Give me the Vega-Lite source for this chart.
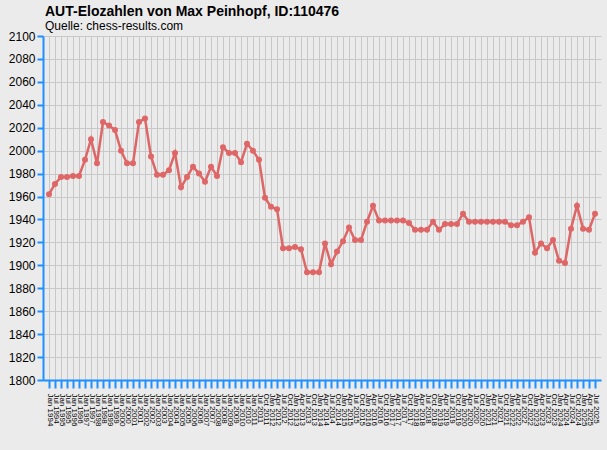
{
  "$schema": "https://vega.github.io/schema/vega-lite/v6.json",
  "autosize": {"type": "none"},
  "padding": {"left": 43, "top": 36, "right": 6, "bottom": 70},
  "width": 558,
  "height": 344,
  "background": "#ebebeb",
  "config": {
    "font": "Liberation Sans",
    "view": {"fill": "#ebebeb", "stroke": null}
  },
  "title": {
    "text": "AUT-Elozahlen von Max Peinhopf, ID:110476",
    "subtitle": "Quelle: chess-results.com",
    "anchor": "start",
    "frame": "group",
    "font": "Liberation Sans",
    "fontSize": 14,
    "fontWeight": "bold",
    "color": "#000000",
    "subtitleFont": "Liberation Sans",
    "subtitleFontSize": 12,
    "subtitleColor": "#000000",
    "subtitlePadding": 2,
    "offset": -2,
    "dx": 2
  },
  "data": {
    "values": [
      {"d": "Jan 1994", "elo": 1962}, {"d": "Jul 1994", "elo": 1971}, {"d": "Jan 1995", "elo": 1977}, {"d": "Jul 1995", "elo": 1977},
      {"d": "Jan 1996", "elo": 1978}, {"d": "Jul 1996", "elo": 1978}, {"d": "Jan 1997", "elo": 1992}, {"d": "Jul 1997", "elo": 2010},
      {"d": "Jan 1998", "elo": 1989}, {"d": "Jul 1998", "elo": 2025}, {"d": "Jan 1999", "elo": 2022}, {"d": "Jul 1999", "elo": 2018},
      {"d": "Jan 2000", "elo": 2000}, {"d": "Jul 2000", "elo": 1989}, {"d": "Jan 2001", "elo": 1989}, {"d": "Jul 2001", "elo": 2025},
      {"d": "Jan 2002", "elo": 2028}, {"d": "Jul 2002", "elo": 1995}, {"d": "Jan 2003", "elo": 1979}, {"d": "Jul 2003", "elo": 1979},
      {"d": "Jan 2004", "elo": 1983}, {"d": "Jul 2004", "elo": 1998}, {"d": "Jan 2005", "elo": 1968}, {"d": "Jul 2005", "elo": 1977},
      {"d": "Jan 2006", "elo": 1986}, {"d": "Jul 2006", "elo": 1980}, {"d": "Jan 2007", "elo": 1973}, {"d": "Jul 2007", "elo": 1986},
      {"d": "Jan 2008", "elo": 1978}, {"d": "Jul 2008", "elo": 2003}, {"d": "Jan 2009", "elo": 1998}, {"d": "Jul 2009", "elo": 1998},
      {"d": "Jan 2010", "elo": 1990}, {"d": "Jul 2010", "elo": 2006}, {"d": "Jan 2011", "elo": 2000}, {"d": "Jul 2011", "elo": 1992},
      {"d": "Oct 2011", "elo": 1959}, {"d": "Jan 2012", "elo": 1951}, {"d": "Apr 2012", "elo": 1949}, {"d": "Jul 2012", "elo": 1915},
      {"d": "Oct 2012", "elo": 1915}, {"d": "Jan 2013", "elo": 1916}, {"d": "Apr 2013", "elo": 1914}, {"d": "Jul 2013", "elo": 1894},
      {"d": "Oct 2013", "elo": 1894}, {"d": "Jan 2014", "elo": 1894}, {"d": "Apr 2014", "elo": 1919}, {"d": "Jul 2014", "elo": 1901},
      {"d": "Oct 2014", "elo": 1912}, {"d": "Jan 2015", "elo": 1921}, {"d": "Apr 2015", "elo": 1933}, {"d": "Jul 2015", "elo": 1922},
      {"d": "Oct 2015", "elo": 1922}, {"d": "Jan 2016", "elo": 1938}, {"d": "Apr 2016", "elo": 1952}, {"d": "Jul 2016", "elo": 1939},
      {"d": "Oct 2016", "elo": 1939}, {"d": "Jan 2017", "elo": 1939}, {"d": "Apr 2017", "elo": 1939}, {"d": "Jul 2017", "elo": 1939},
      {"d": "Oct 2017", "elo": 1937}, {"d": "Jan 2018", "elo": 1931}, {"d": "Apr 2018", "elo": 1931}, {"d": "Jul 2018", "elo": 1931},
      {"d": "Oct 2018", "elo": 1938}, {"d": "Jan 2019", "elo": 1931}, {"d": "Apr 2019", "elo": 1936}, {"d": "Jul 2019", "elo": 1936},
      {"d": "Oct 2019", "elo": 1936}, {"d": "Jan 2020", "elo": 1945}, {"d": "Apr 2020", "elo": 1938}, {"d": "Jul 2020", "elo": 1938},
      {"d": "Oct 2020", "elo": 1938}, {"d": "Jan 2021", "elo": 1938}, {"d": "Apr 2021", "elo": 1938}, {"d": "Jul 2021", "elo": 1938},
      {"d": "Oct 2021", "elo": 1938}, {"d": "Jan 2022", "elo": 1935}, {"d": "Apr 2022", "elo": 1935}, {"d": "Jul 2022", "elo": 1938},
      {"d": "Oct 2022", "elo": 1942}, {"d": "Jan 2023", "elo": 1911}, {"d": "Apr 2023", "elo": 1919}, {"d": "Jul 2023", "elo": 1915},
      {"d": "Oct 2023", "elo": 1922}, {"d": "Jan 2024", "elo": 1904}, {"d": "Apr 2024", "elo": 1902}, {"d": "Jul 2024", "elo": 1932},
      {"d": "Oct 2024", "elo": 1952}, {"d": "Jan 2025", "elo": 1932}, {"d": "Apr 2025", "elo": 1931}, {"d": "Jul 2025", "elo": 1945}
    ]
  },
  "encoding": {
    "x": {
      "field": "d",
      "type": "ordinal",
      "sort": null,
      "scale": {"type": "point", "padding": 1},
      "axis": {
        "title": null,
        "domainColor": "#1e90ff",
        "domainWidth": 2,
        "tickColor": "#1e90ff",
        "tickSize": 8,
        "tickWidth": 2,
        "labelAngle": 90,
        "labelAlign": "left",
        "labelBaseline": "middle",
        "labelFontSize": 8,
        "labelColor": "#000000",
        "labelPadding": 5,
        "labelOverlap": false,
        "grid": true,
        "gridColor": "#c8c8c8",
        "gridWidth": 1
      }
    },
    "y": {
      "field": "elo",
      "type": "quantitative",
      "scale": {"domain": [1800, 2100], "nice": false, "zero": false},
      "axis": {
        "title": null,
        "format": "d",
        "values": [1800, 1820, 1840, 1860, 1880, 1900, 1920, 1940, 1960, 1980, 2000, 2020, 2040, 2060, 2080, 2100],
        "domainColor": "#1e90ff",
        "domainWidth": 2,
        "tickColor": "#1e90ff",
        "tickSize": 6,
        "tickWidth": 2,
        "labelFontSize": 12,
        "labelColor": "#000000",
        "labelPadding": 2,
        "grid": true,
        "gridColor": "#c8c8c8",
        "gridWidth": 1
      }
    }
  },
  "layer": [
    {"mark": {"type": "line", "color": "#df6666", "strokeWidth": 2.5}},
    {"mark": {"type": "point", "filled": true, "size": 36, "color": "#df6666", "opacity": 1}}
  ]
}
